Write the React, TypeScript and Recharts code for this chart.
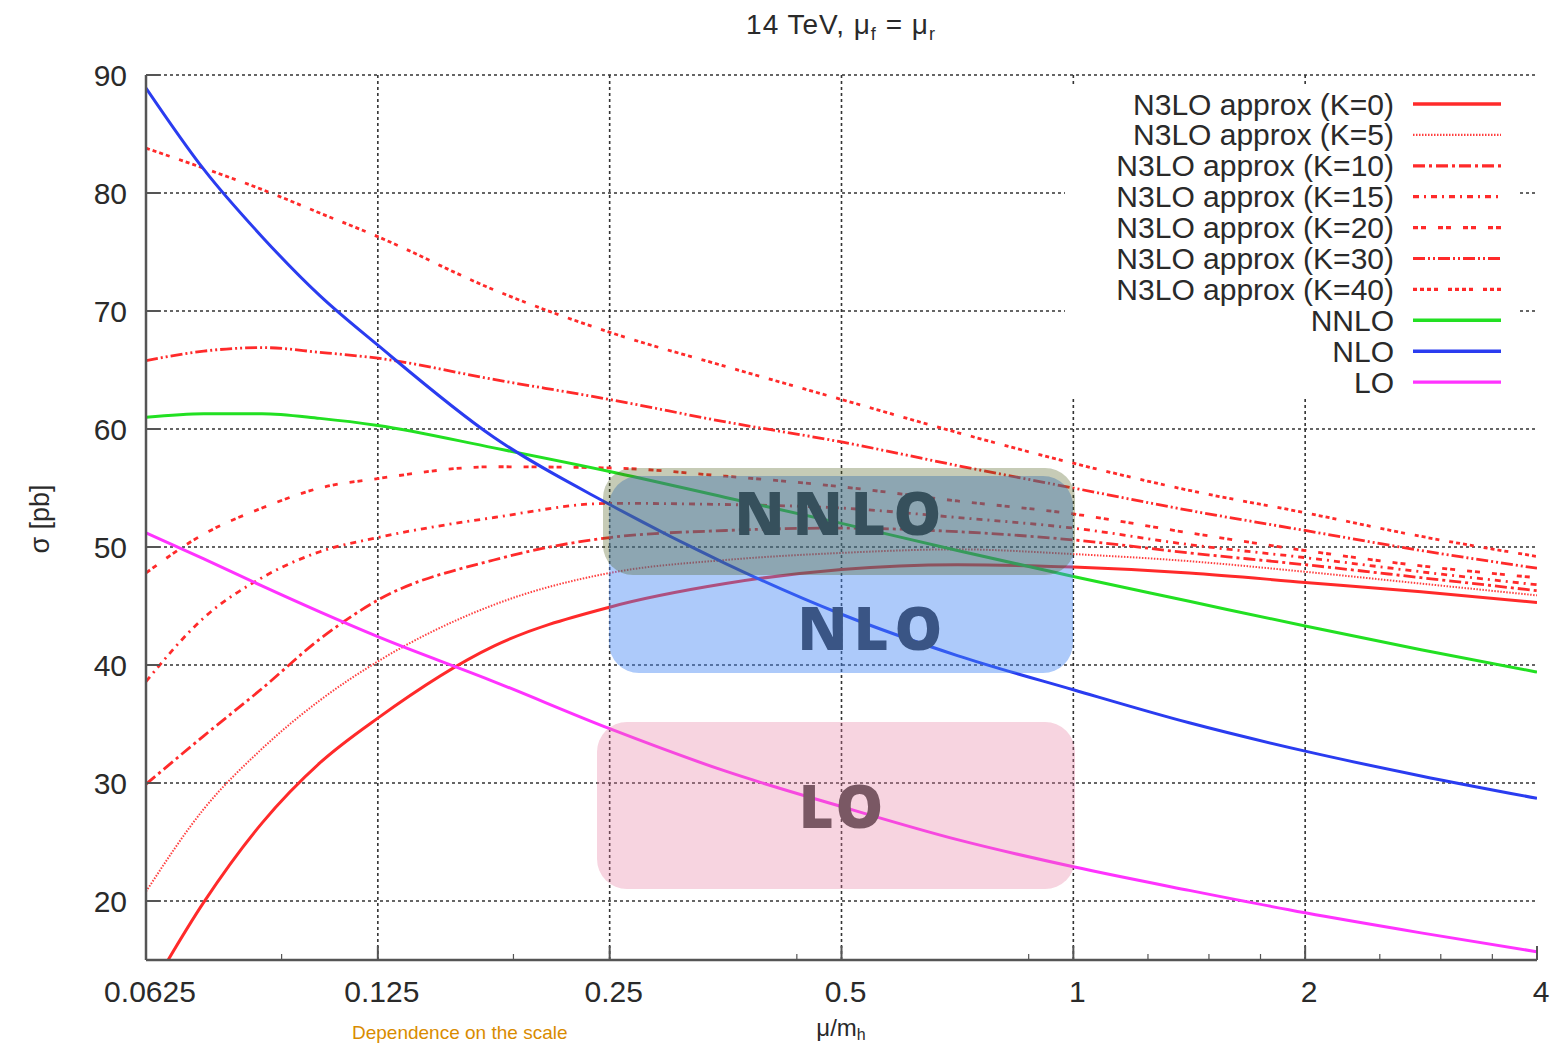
import React from 'react';
import { LineChart, Line, XAxis, YAxis, CartesianGrid, ReferenceLine } from 'recharts';

// mu / m_h sample points (log2 spaced)
const muRatio = [0.0625, 0.0743, 0.0884, 0.1051, 0.125, 0.1768, 0.25, 0.3536, 0.5, 0.7071, 1, 1.414, 2, 2.828, 4];

// cross sections in pb
const n3loK0 = [11.8, 19.9, 26.6, 31.7, 35.5, 41.6, 44.9, 46.9, 48.1, 48.5, 48.3, 47.8, 47.0, 46.2, 45.3];
const n3loK5 = [20.8, 27.8, 32.9, 37.0, 40.3, 45.1, 47.8, 48.9, 49.5, 49.8, 49.4, 48.8, 47.9, 46.9, 45.9];
const n3loK10 = [29.9, 34.0, 38.0, 42.2, 45.5, 48.9, 50.8, 51.4, 51.6, 51.3, 50.6, 49.5, 48.5, 47.4, 46.3];
const n3loK15 = [38.6, 44.0, 47.4, 49.6, 50.8, 52.5, 53.7, 53.6, 53.3, 52.5, 51.6, 50.2, 49.1, 47.9, 46.8];
const n3loK20 = [47.8, 51.1, 53.3, 55.0, 55.8, 56.8, 56.7, 56.0, 55.1, 53.9, 52.8, 51.2, 49.7, 48.4, 47.4];
const n3loK30 = [65.8, 66.6, 66.9, 66.5, 66.0, 64.2, 62.5, 60.6, 58.9, 56.9, 55.0, 53.1, 51.4, 49.7, 48.2];
const n3loK40 = [83.8, 82.1, 80.3, 78.3, 76.3, 71.8, 68.2, 65.3, 62.5, 59.7, 57.1, 54.8, 52.9, 50.9, 49.2];
const nnlo = [61.0, 61.3, 61.3, 60.9, 60.3, 58.4, 56.4, 54.2, 52.0, 49.7, 47.5, 45.4, 43.3, 41.3, 39.4];
const nlo = [88.9, 82.0, 76.3, 71.3, 67.1, 59.3, 53.6, 48.6, 44.3, 40.8, 37.9, 35.1, 32.7, 30.6, 28.7];
const lo = [51.2, 49.0, 46.7, 44.5, 42.4, 38.6, 34.6, 31.0, 28.0, 25.2, 22.9, 20.9, 19.0, 17.3, 15.7];

const majorTicks = [0.0625, 0.125, 0.25, 0.5, 1, 2, 4];
const minorTicks = [0.09375, 0.1875, 0.4375, 0.875, 1.25, 1.5, 1.75, 2.5, 3, 3.5];
const gridX = [0.125, 0.25, 0.5, 1, 2];
const sigmaTicks = [20, 30, 40, 50, 60, 70, 80, 90];

const RED = '#ff2a2a';
const AXIS = '#555';
const GRID = '#333';
const TEXT = '#2a2a2a';
const FONT = '"Liberation Sans", Arial, sans-serif';

const series = [
    { key: 'k0', name: 'N3LO approx (K=0)', color: RED, dash: undefined, width: 3 },
    { key: 'k5', name: 'N3LO approx (K=5)', color: '#ff4040', dash: '1.5 1.5', width: 2 },
    { key: 'k10', name: 'N3LO approx (K=10)', color: RED, dash: '12 4 3 4', width: 2.8 },
    { key: 'k15', name: 'N3LO approx (K=15)', color: RED, dash: '6 5 2 5', width: 2.8 },
    { key: 'k20', name: 'N3LO approx (K=20)', color: RED, dash: '5 3 5 12', width: 2.8 },
    { key: 'k30', name: 'N3LO approx (K=30)', color: RED, dash: '12 3 2 3 2 3', width: 2.8 },
    { key: 'k40', name: 'N3LO approx (K=40)', color: RED, dash: '4 3 4 3 4 3 4 10', width: 2.8 },
    { key: 'nnlo', name: 'NNLO', color: '#22e022', dash: undefined, width: 3 },
    { key: 'nlo', name: 'NLO', color: '#2a3cf0', dash: undefined, width: 3 },
    { key: 'lo', name: 'LO', color: '#ff33ff', dash: undefined, width: 3 },
];

const data = muRatio.map((mu, i) => ({
    mu,
    k0: n3loK0[i],
    k5: n3loK5[i],
    k10: n3loK10[i],
    k15: n3loK15[i],
    k20: n3loK20[i],
    k30: n3loK30[i],
    k40: n3loK40[i],
    nnlo: nnlo[i],
    nlo: nlo[i],
    lo: lo[i],
}));

function BottomTick(props: any) {
    const { x, y, payload } = props;
    const major = majorTicks.includes(payload.value);
    return (
        <g>
            <line x1={x} x2={x} y1={y} y2={y - (major ? 14 : 6)} stroke={AXIS} strokeWidth={major ? 2 : 1.2} />
            {major && (
                <text x={x + 4} y={y + 42} textAnchor="middle" fontSize={30} fontFamily={FONT} fill={TEXT}>
                    {payload.value}
                </text>
            )}
        </g>
    );
}

function LeftTick(props: any) {
    const { x, y, payload } = props;
    return (
        <g>
            <line x1={x} x2={x + 14} y1={y} y2={y} stroke={AXIS} strokeWidth={2} />
            <text x={x - 19} y={y + 11} textAnchor="end" fontSize={30} fontFamily={FONT} fill={TEXT}>
                {payload.value}
            </text>
        </g>
    );
}

export default function App() {
    return (
        <div style={{ position: 'fixed', left: 0, top: 0, width: 1557, height: 1044, overflow: 'hidden', background: '#fff' }}>
            <LineChart width={1557} height={1044} data={data} margin={{ top: 75, right: 20, bottom: 24, left: 46 }}>
                <CartesianGrid vertical={false} stroke={GRID} strokeDasharray="3 3" strokeWidth={1.6} />
                {gridX.map((v) => (
                    <ReferenceLine key={v} x={v} stroke={GRID} strokeDasharray="3 3" strokeWidth={1.6} />
                ))}
                <XAxis
                    dataKey="mu"
                    type="number"
                    scale="log"
                    domain={[0.0625, 4]}
                    allowDataOverflow
                    ticks={[...majorTicks, ...minorTicks]}
                    interval={0}
                    height={60}
                    tickSize={0}
                    tickMargin={0}
                    tickLine={false}
                    tick={<BottomTick />}
                    axisLine={{ stroke: AXIS, strokeWidth: 2.5 }}
                />
                <XAxis
                    xAxisId="top"
                    orientation="top"
                    mirror
                    dataKey="mu"
                    type="number"
                    scale="log"
                    domain={[0.0625, 4]}
                    allowDataOverflow
                    ticks={majorTicks}
                    interval={0}
                    height={0}
                    tick={false}
                    tickSize={14}
                    tickLine={{ stroke: AXIS, strokeWidth: 2 }}
                    axisLine={{ stroke: AXIS, strokeWidth: 2.5 }}
                />
                <XAxis
                    xAxisId="topMinor"
                    orientation="top"
                    mirror
                    dataKey="mu"
                    type="number"
                    scale="log"
                    domain={[0.0625, 4]}
                    allowDataOverflow
                    ticks={minorTicks}
                    interval={0}
                    height={0}
                    tick={false}
                    tickSize={6}
                    tickLine={{ stroke: AXIS, strokeWidth: 1.2 }}
                    axisLine={false}
                />
                <YAxis
                    type="number"
                    domain={[15, 90]}
                    allowDataOverflow
                    ticks={sigmaTicks}
                    interval={0}
                    width={100}
                    tickSize={0}
                    tickMargin={0}
                    tickLine={false}
                    tick={<LeftTick />}
                    axisLine={{ stroke: AXIS, strokeWidth: 2.5 }}
                />
                <YAxis
                    yAxisId="right"
                    orientation="right"
                    mirror
                    type="number"
                    domain={[15, 90]}
                    allowDataOverflow
                    ticks={sigmaTicks}
                    interval={0}
                    width={0}
                    tick={false}
                    tickSize={16}
                    tickLine={{ stroke: AXIS, strokeWidth: 2 }}
                    axisLine={{ stroke: AXIS, strokeWidth: 2.5 }}
                />
                {series.map((s) => (
                    <Line
                        key={s.key}
                        type="monotone"
                        dataKey={s.key}
                        name={s.name}
                        stroke={s.color}
                        strokeWidth={s.width}
                        strokeDasharray={s.dash}
                        dot={false}
                        activeDot={false}
                        isAnimationActive={false}
                    />
                ))}
            </LineChart>

            {/* titles, key and the coloured annotation boxes */}
            <svg width={1557} height={1044} style={{ position: 'absolute', left: 0, top: 0, pointerEvents: 'none' }}>
                <text x={841} y={34} textAnchor="middle" fontSize={28} fontFamily={FONT} fill={TEXT} letterSpacing={1}>
                    14 TeV, μ
                    <tspan fontSize={18} dy={6}>f</tspan>
                    <tspan dy={-6}> = μ</tspan>
                    <tspan fontSize={18} dy={6}>r</tspan>
                </text>
                <text transform="translate(49,519) rotate(-90)" textAnchor="middle" fontSize={27} fontFamily={FONT} fill={TEXT}>
                    σ [pb]
                </text>
                <text x={841} y={1036} textAnchor="middle" fontSize={24} fontFamily={FONT} fill={TEXT}>
                    μ/m<tspan fontSize={16} dy={4}>h</tspan>
                </text>
                <text x={352} y={1039} fontSize={19} fontFamily={FONT} fill="#d98b00">
                    Dependence on the scale
                </text>

                {/* key */}
                <rect x={1065} y={86} width={452} height={311} fill="#fff" />
                {series.map((s, i) => {
                    const cy = 104 + i * 30.9;
                    return (
                        <g key={s.key}>
                            <text x={1394} y={cy + 10.5} textAnchor="end" fontSize={30} fontFamily={FONT} fill={TEXT}>
                                {s.name}
                            </text>
                            <line x1={1413} x2={1501} y1={cy} y2={cy} stroke={s.color} strokeWidth={s.width + 0.4} strokeDasharray={s.dash} />
                        </g>
                    );
                })}

                {/* annotation boxes */}
                <rect x={609} y={476} width={464} height={197} rx={30} fill="rgba(66,133,244,0.43)" />
                <rect x={603} y={468} width={472} height={107} rx={30} fill="rgba(71,87,19,0.31)" />
                <rect x={597} y={722} width={478} height={167} rx={30} fill="rgba(230,120,160,0.32)" />
                <text x={842} y={535} textAnchor="middle" fontSize={60} fontWeight={800} fontFamily='"Open Sans", sans-serif' letterSpacing={8} fill="#36505c">
                    NNLO
                </text>
                <text x={873} y={650} textAnchor="middle" fontSize={60} fontWeight={800} fontFamily='"Open Sans", sans-serif' letterSpacing={6} fill="#3a5585">
                    NLO
                </text>
                <text x={842} y={828} textAnchor="middle" fontSize={60} fontWeight={800} fontFamily='"Open Sans", sans-serif' letterSpacing={2} fill="#7a5864">
                    LO
                </text>
            </svg>
        </div>
    );
}
